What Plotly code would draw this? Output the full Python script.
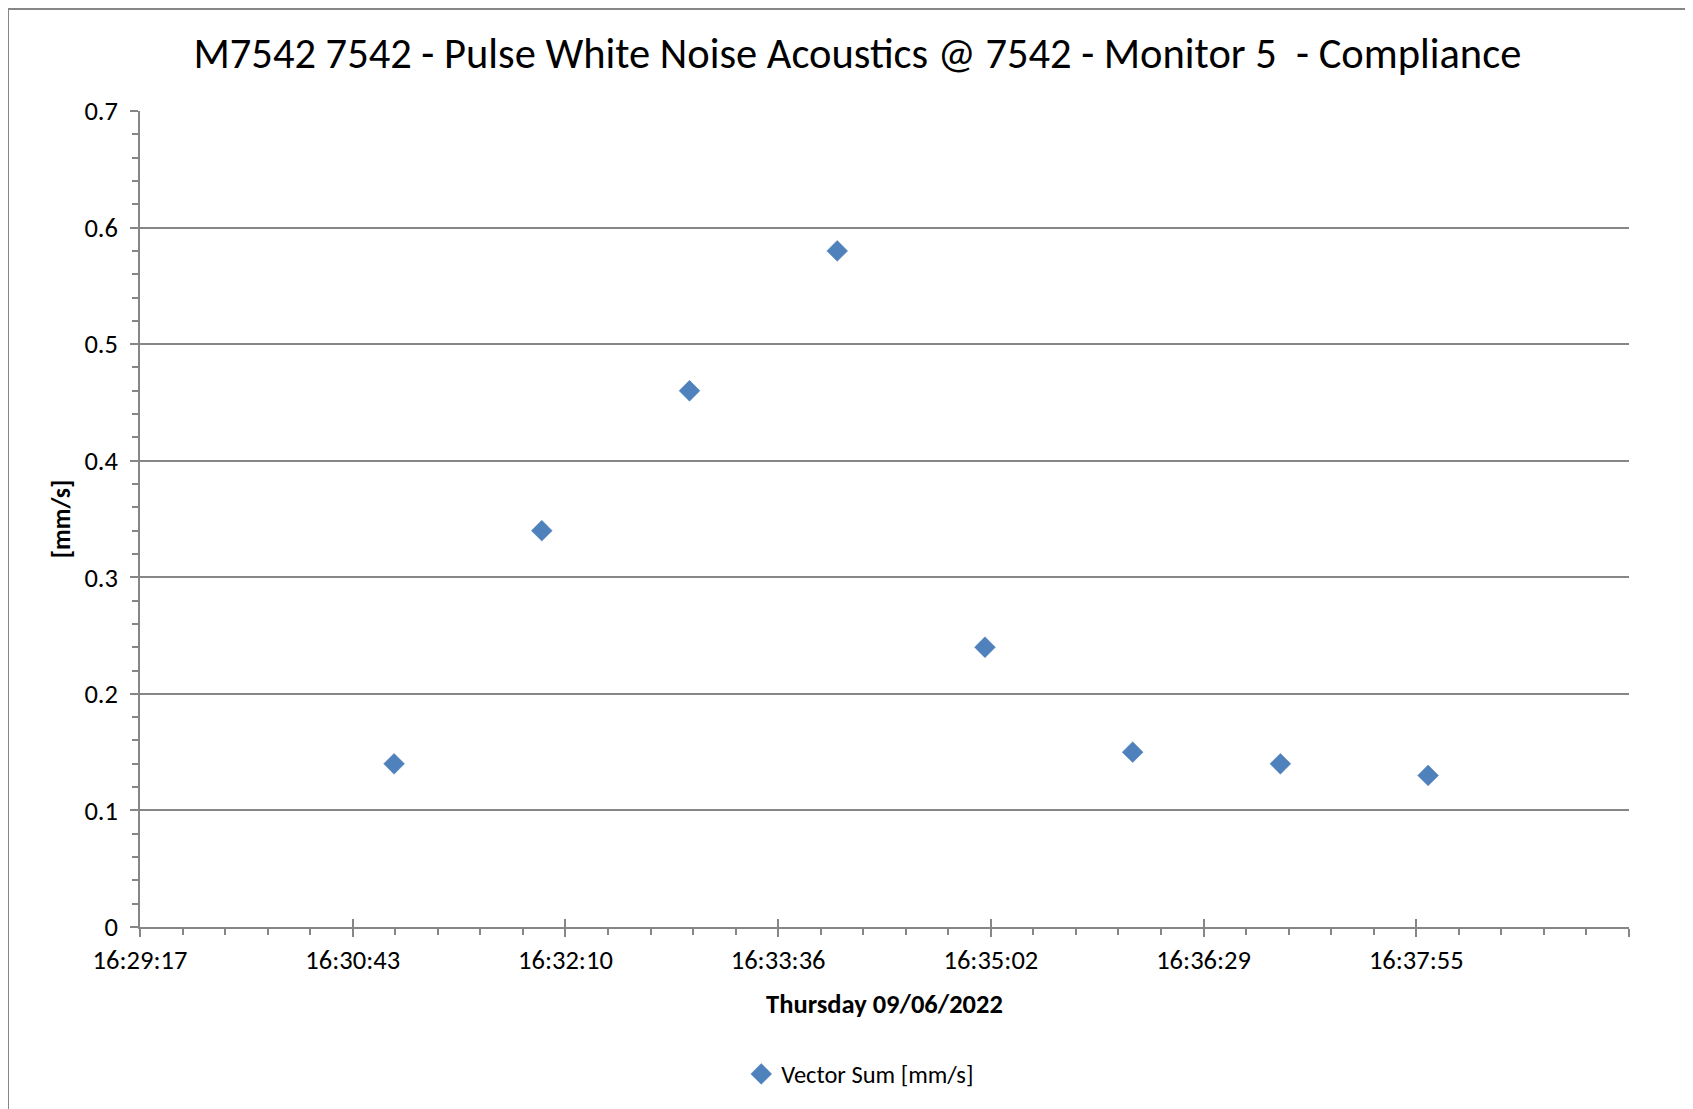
import datetime as dt
import plotly.graph_objects as go

# ---- data ----
times = ["2022-06-09 16:31:00", "2022-06-09 16:32:00", "2022-06-09 16:33:00",
         "2022-06-09 16:34:00", "2022-06-09 16:35:00", "2022-06-09 16:36:00",
         "2022-06-09 16:37:00", "2022-06-09 16:38:00"]
vector_sum = [0.14, 0.34, 0.46, 0.58, 0.24, 0.15, 0.14, 0.13]
x_tick_labels = ["16:29:17", "16:30:43", "16:32:10", "16:33:36",
                 "16:35:02", "16:36:29", "16:37:55", ""]
y_tick_vals = [0, 0.1, 0.2, 0.3, 0.4, 0.5, 0.6, 0.7]

title = "M7542 7542 - Pulse White Noise Acoustics @ 7542 - Monitor 5  - Compliance"
x_title = "Thursday 09/06/2022"
y_title = "[mm/s]"
series_name = "Vector Sum [mm/s]"

# axis scale (Excel day fractions): min 0.687, major unit 0.001 day
day0 = dt.datetime(2022, 6, 9)
x_min = day0 + dt.timedelta(days=0.687)
major = dt.timedelta(days=0.001)
x_max = x_min + major * 7
tickvals = [x_min + major * k for k in range(8)]

def fmt(d):
    return d.strftime("%Y-%m-%d %H:%M:%S.%f")[:-3]

GRAY = "#868686"
FONT = "Carlito, Calibri, Lato, sans-serif"
W, H = 1685, 1101
L, R, T, B = 132, 64, 103, 182
PW, PH = W - L - R, H - T - B

fig = go.Figure()
fig.add_trace(go.Scatter(
    x=times, y=vector_sum, mode="markers", name=series_name,
    marker=dict(symbol="diamond", size=16, color="#4F81BD",
                line=dict(color="#4A7EBB", width=0.5)),
    xaxis="x", yaxis="y",
))
# helper trace so the overlay axis (crossing major ticks) is drawn
fig.add_trace(go.Scatter(x=[fmt(x_min)], y=[None], xaxis="x2", yaxis="y",
                         showlegend=False, hoverinfo="skip"))

fig.update_layout(
    width=W, height=H,
    paper_bgcolor="white", plot_bgcolor="white",
    margin=dict(l=L, r=R, t=T, b=B, autoexpand=False),
    font=dict(family=FONT, color="black", size=26),
    title=dict(text=title, x=0.4818, xref="paper", xanchor="center",
               y=1 - 45 / H, yanchor="middle", yref="container",
               font=dict(size=42.5, family=FONT)),
    xaxis=dict(
        type="date", range=[fmt(x_min), fmt(x_max)],
        tickmode="array", tickvals=[fmt(t) for t in tickvals], ticktext=x_tick_labels,
        ticks="outside", ticklen=8, tickwidth=1.5, tickcolor=GRAY,
        showline=True, linecolor=GRAY, linewidth=1.5,
        showgrid=False, zeroline=False,
        minor=dict(ticks="outside", ticklen=6, tickwidth=1.5, tickcolor=GRAY,
                   dtick=17280, tick0=fmt(x_min), showgrid=False),
        tickfont=dict(size=26.5),
        title=dict(text="<b>" + x_title + "</b>", font=dict(size=26.5), standoff=20),
    ),
    xaxis2=dict(
        type="date", overlaying="x", matches="x", range=[fmt(x_min), fmt(x_max)],
        tickmode="array", tickvals=[fmt(t) for t in tickvals],
        ticks="inside", ticklen=8, tickwidth=1.5, tickcolor=GRAY,
        showticklabels=False, showgrid=False, showline=False, zeroline=False,
        side="bottom",
    ),
    yaxis=dict(
        range=[0, 0.7], tickmode="array", tickvals=y_tick_vals,
        ticktext=[("%g" % v) for v in y_tick_vals],
        ticks="outside", ticklen=8, tickwidth=1.5, tickcolor=GRAY,
        showline=True, linecolor=GRAY, linewidth=1.5,
        showgrid=True, gridcolor=GRAY, gridwidth=1.5, zeroline=False,
        minor=dict(ticks="outside", ticklen=6, tickwidth=1.5, tickcolor=GRAY,
                   dtick=0.02, showgrid=False),
        tickfont=dict(size=26.5), ticklabelstandoff=7,
        title=dict(text="<b>" + y_title + "</b>", font=dict(size=25.5), standoff=6),
    ),
    showlegend=True,
    legend=dict(orientation="h", x=0.4837, xref="paper", xanchor="center",
                y=1 - 1066 / H, yref="container", yanchor="middle",
                font=dict(size=24.5), itemwidth=30, bgcolor="rgba(0,0,0,0)"),
    shapes=[
        dict(type="line", xref="paper", yref="paper",
             x0=-132 / PW, x1=(PW + 200) / PW, y0=1 + 102 / PH, y1=1 + 102 / PH,
             line=dict(color=GRAY, width=2)),
        dict(type="line", xref="paper", yref="paper",
             x0=-132 / PW, x1=-132 / PW, y0=1 + 102 / PH, y1=-300 / PH,
             line=dict(color=GRAY, width=2)),
    ],
)

fig.write_html("out.html")
